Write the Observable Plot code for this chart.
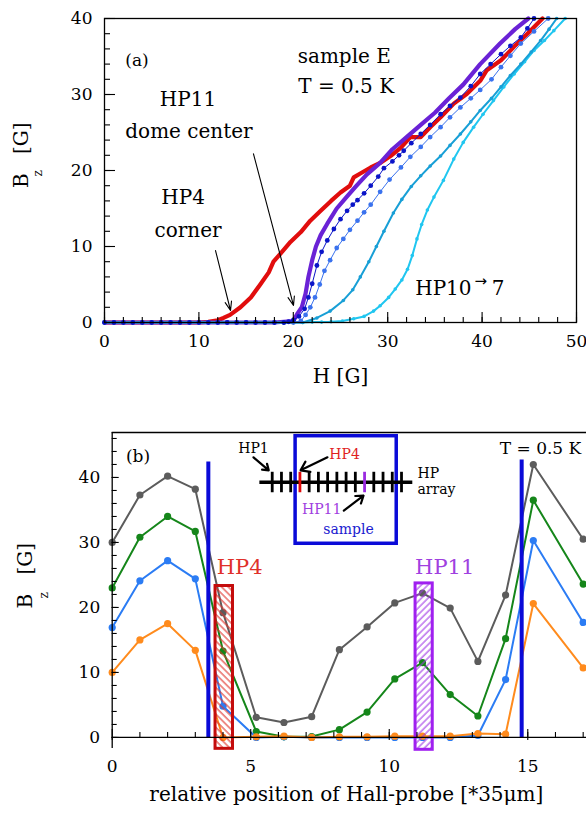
<!DOCTYPE html>
<html><head><meta charset="utf-8">
<script src="https://cdn.jsdelivr.net/npm/d3@7"></script>
<script src="https://cdn.jsdelivr.net/npm/@observablehq/plot@0.6"></script>
<style>
body{margin:0;background:#fff;}
#wrap{position:relative;width:586px;height:814px;overflow:hidden;background:#fff;}
#wrap svg.pl{position:absolute;left:0;}
</style></head><body>
<svg width="0" height="0" style="position:absolute">
<defs>
<pattern id="hatch4" patternUnits="userSpaceOnUse" width="4.7" height="4.7" patternTransform="rotate(-45)"><line x1="1" y1="0" x2="1" y2="4.7" stroke="#e0342c" stroke-width="1.1"/></pattern>
<pattern id="hatch11" patternUnits="userSpaceOnUse" width="4.7" height="4.7" patternTransform="rotate(45)"><line x1="1" y1="0" x2="1" y2="4.7" stroke="#a23ce6" stroke-width="1.1"/></pattern>
</defs></svg>
<div id="wrap"></div>
<script>
// ---------- Panel (a) data: H [G] vs Bz [G] ----------
const hTicksA = [0, 10, 20, 30, 40, 50];
const bTicksA = [0, 10, 20, 30, 40];
const hp4 = [[0,0],[5,0],[10,0],[11,0.1],[12,0.3],[12.6,0.6],[13.3,1.0],[14.4,2.0],[15.5,3.3],[16.5,5.0],[17.4,6.6],[17.9,8.0],[18.6,9.0],[19.7,10.6],[20.8,11.9],[21.8,13.4],[22.9,14.7],[24,16],[25,17.1],[26,18],[26.4,19.1],[27.1,19.6],[28.2,20.4],[29.2,21],[30.3,21.9],[31.4,23],[32.4,24.4],[33.5,24.4],[34.5,25.7],[35.6,27],[37,28.8],[38.4,30.1],[39.8,31.8],[40.5,33.2],[42,34.5],[43.4,36.3],[44.8,38],[46.4,40]];
const hp11 = [[0,0],[5,0],[10,0],[15,0],[18,0],[20,0.2],[20.4,1.1],[20.9,2],[21.3,3.8],[21.6,6],[22,8.2],[22.4,10],[22.9,11.5],[23.6,13],[24.6,15],[25.7,16.6],[26.7,18],[27.8,19.5],[29.2,21],[30.5,22.8],[32,24.4],[33.5,26],[35,27.6],[36.5,29.5],[38,31.3],[39.8,34],[41.9,36.7],[43.5,38.6],[44.9,40]];
const hp10 = [[0,0],[1,0],[2,0],[3,0],[4,0],[5,0],[6,0],[7,0],[8,0],[9,0],[10,0],[11,0],[12,0],[13,0],[14,0],[15,0],[16,0],[17,0],[18,0],[19,0],[19.5,0.1],[20,0.3],[20.6,0.8],[21.2,1.8],[21.6,3.3],[22,5.1],[22.5,7.5],[23,9.3],[23.6,10.8],[24.3,12.3],[25,13.6],[25.7,14.7],[26.3,15.5],[26.8,16.1],[27.5,17.0],[28.2,18.0],[29,19.2],[29.6,20.3],[30.5,21.2],[31.2,22.0],[31.7,22.6],[32.5,23.6],[33.5,24.8],[34.5,26.0],[35.6,27.4],[36.6,28.5],[37.7,29.6],[38.8,31.1],[39.8,32.7],[40.9,34.0],[42,35.3],[43,36.4],[44.1,37.5],[44.8,38.7],[45.5,40]];
const hp9 = [[0,0],[1,0],[2,0],[3,0],[4,0],[5,0],[6,0],[7,0],[8,0],[9,0],[10,0],[11,0],[12,0],[13,0],[14,0],[15,0],[16,0],[17,0],[18,0],[19,0],[20,0],[20.8,0.2],[21.3,1.0],[21.8,2.0],[22.3,3.3],[22.8,5.0],[23.3,6.8],[23.9,8.2],[24.6,9.8],[25.3,11.0],[26,12.2],[26.8,13.4],[27.5,14.5],[28.2,15.5],[29.2,17.2],[30.2,18.8],[31.4,20.4],[32.4,21.8],[33.5,23.1],[34.5,24.4],[35.6,25.7],[36.6,27.0],[37.7,28.3],[38.8,29.5],[39.8,30.6],[41,32.0],[42,33.6],[43,35.1],[44.1,36.7],[45.5,38.3],[47,40]];
const hp8 = [[0,0],[1,0],[2,0],[3,0],[4,0],[5,0],[6,0],[7,0],[8,0],[9,0],[10,0],[11,0],[12,0],[13,0],[14,0],[15,0],[16,0],[17,0],[18,0],[19,0],[20,0],[21,0],[22.5,0.6],[23.9,1.5],[25.3,2.9],[26.3,4.3],[27.1,6.0],[28,8.0],[28.8,10.0],[29.6,12.0],[30.6,14.4],[31.5,16.2],[32.5,17.9],[33.5,19.3],[34.5,20.6],[35.6,21.9],[36.6,23.3],[37.7,24.8],[38.8,26.4],[39.8,27.9],[41,29.5],[42,31],[43,32.5],[44.1,34],[45.2,35.6],[46.2,37.1],[47.1,38.6],[47.9,40]];
const hp7 = [[0,0],[1,0],[2,0],[3,0],[4,0],[5,0],[6,0],[7,0],[8,0],[9,0],[10,0],[11,0],[12,0],[13,0],[14,0],[15,0],[16,0],[17,0],[18,0],[19,0],[20,0],[21,0],[22,0.05],[23,0.05],[24,0.1],[25.2,0.2],[26.4,0.5],[27.5,0.8],[28.5,1.5],[29.2,2.2],[30.1,3.3],[30.8,4.4],[31.5,5.6],[32.1,7.0],[32.6,8.8],[33.1,11.0],[33.6,12.9],[34.2,14.8],[34.9,16.5],[35.9,18.7],[37,21.5],[38,23.7],[39.1,25.7],[40.1,27.4],[41.2,29.2],[42.3,31.0],[43.4,32.7],[44.5,34.3],[45.5,35.8],[46.6,37.1],[47.6,38.4],[48.8,40]];

// ---------- Panel (b) data: Bz vs Hall-probe position ----------
const xTicksB = [0, 5, 10, 15];
const yTicksB = [0, 10, 20, 30, 40];
const probePos = [0, 1, 2, 3, 4, 5.2, 6.2, 7.2, 8.2, 9.2, 10.2, 11.2, 12.2, 13.2, 14.2, 15.2, 17];
const grayB   = [30.0, 37.3, 40.2, 38.2, 19.2, 3.1, 2.3, 3.2, 13.5, 17.0, 20.7, 22.2, 19.9, 11.7, 21.9, 42.0, 30.5];
const greenB  = [23.0, 30.8, 34.0, 31.7, 13.3, 0.9, 0.1, 0.15, 1.2, 3.9, 9.0, 11.5, 6.6, 3.3, 15.2, 36.5, 23.6];
const blueB   = [16.9, 24.1, 27.2, 24.4, 4.8, 0.0, 0.1, 0.0, 0.0, 0.0, 0.0, 0.0, 0.0, 0.3, 8.9, 30.3, 17.7];
const orangeB = [10.0, 15.0, 17.5, 13.4, 0.0, 0.1, 0.2, 0.0, 0.1, 0.1, 0.2, 0.2, 0.2, 0.6, 0.5, 20.6, 10.7];
const sampleEdges = [3.47, 14.78];
const edgeTops = [42.4, 42.7];
const probeBoxes = [{name:"HP4", x1:3.73, x2:4.36, y1:-1.75, y2:23.3}, {name:"HP11", x1:10.95, x2:11.57, y1:-1.9, y2:23.7}];
const insetProbes = d3.range(1, 16); // HP1 .. HP15

const FONT = "DejaVu Serif, serif";
const wrap = document.getElementById("wrap");
const pts = (arr) => arr.map(([x, y]) => ({x, y}));

// ---------- Panel (a) ----------
const frameHA = 304, frameWA = 472;
const plotA = Plot.plot({
  width: 586, height: 400,
  marginTop: 18, marginBottom: 78, marginLeft: 104, marginRight: 10,
  x: {domain: [0, 50], ticks: hTicksA, tickSize: 0, tickPadding: 12, label: null},
  y: {domain: [0, 40], ticks: bTicksA, tickSize: 0, tickPadding: 12, label: null},
  style: {fontFamily: FONT, fontSize: "17px", color: "black", background: "transparent", overflow: "visible"},
  marks: [
    Plot.line(pts(hp4), {x: "x", y: "y", stroke: "#e10d0d", strokeWidth: 4.2}),
    Plot.line(pts(hp11), {x: "x", y: "y", stroke: "#6a22d6", strokeWidth: 4.2}),
    Plot.line(pts(hp7), {x: "x", y: "y", stroke: "#20c6f0", strokeWidth: 2}),
    Plot.dot(pts(hp7), {x: "x", y: "y", r: 1.8, fill: "#20c6f0"}),
    Plot.line(pts(hp8), {x: "x", y: "y", stroke: "#189fd6", strokeWidth: 2}),
    Plot.dot(pts(hp8), {x: "x", y: "y", r: 1.8, fill: "#189fd6"}),
    Plot.line(pts(hp9), {x: "x", y: "y", stroke: "#3a72ee", strokeWidth: 1}),
    Plot.dot(pts(hp9), {x: "x", y: "y", r: 2.4, fill: "#3a72ee"}),
    Plot.line(pts(hp10), {x: "x", y: "y", stroke: "#0a14c8", strokeWidth: 1}),
    Plot.dot(pts(hp10), {x: "x", y: "y", r: 2.4, fill: "#0a14c8"}),
    Plot.frame({stroke: "black", strokeWidth: 1.3}),
    Plot.tickX(d3.range(0, 50.01, 2), {x: d => d, insetTop: frameHA - 5, strokeWidth: 1.1}),
    Plot.tickX(hTicksA, {x: d => d, insetTop: frameHA - 10, strokeWidth: 1.1}),
    Plot.tickY(d3.range(0, 40.01, 2), {y: d => d, insetRight: frameWA - 6, strokeWidth: 1.1}),
    Plot.tickY(bTicksA, {y: d => d, insetRight: frameWA - 11, strokeWidth: 1.1}),
    Plot.arrow([{x1: 11.76, y1: 9.47, x2: 13.35, y2: 1.58}, {x1: 15.78, y1: 22.2, x2: 20.02, y2: 2.24}],
      {x1: "x1", y1: "y1", x2: "x2", y2: "y2", stroke: "black", strokeWidth: 1.1, headLength: 13, headAngle: 40}),
    Plot.text([{t: "(a)", x: 3.44, y: 34.5}], {x: "x", y: "y", text: "t", fontSize: 17}),
    Plot.text([{t: "sample E", x: 25.4, y: 35}, {t: "T = 0.5 K", x: 25.6, y: 31.05},
               {t: "HP11", x: 8.85, y: 29.3}, {t: "dome center", x: 8.95, y: 25.07},
               {t: "HP4", x: 8.32, y: 16.5}, {t: "corner", x: 8.85, y: 12.1},
               {t: "HP10", x: 35.9, y: 4.47}, {t: "7", x: 41.7, y: 4.47}],
      {x: "x", y: "y", text: "t", fontSize: 20}),
    Plot.text([{t: "→", x: 39.85, y: 5.5}], {x: "x", y: "y", text: "t", fontSize: 15, fontFamily: "DejaVu Sans, sans-serif"}),
    Plot.text(["H [G]"], {frameAnchor: "bottom", text: d => d, dy: 60, fontSize: 20}),
    Plot.text(["B"], {frameAnchor: "left", text: d => d, rotate: -90, dx: -83, dy: 17.5, fontSize: 20}),
    Plot.text(["z"], {frameAnchor: "left", text: d => d, rotate: -90, dx: -66, dy: 6, fontSize: 12}),
    Plot.text(["[G]"], {frameAnchor: "left", text: d => d, rotate: -90, dx: -83, dy: -16.5, fontSize: 20})
  ]
});
plotA.setAttribute("class", (plotA.getAttribute("class") || "") + " pl");
plotA.style.top = "0px";
wrap.appendChild(plotA);

// ---------- Panel (b) ----------
const frameHB = 316, frameWB = 474.3;
const rowsB = (vals) => probePos.map((x, i) => ({x, y: vals[i]}));
const seriesB = [[grayB, "#5c5c5c"], [greenB, "#15861a"], [blueB, "#2b7cf4"], [orangeB, "#ff8b1d"]];
const lineMarks = seriesB.flatMap(([vals, c]) => [
  Plot.line(rowsB(vals), {x: "x", y: "y", stroke: c, strokeWidth: 2}),
  Plot.dot(rowsB(vals), {x: "x", y: "y", r: 3.6, fill: c})
]);
const insetX0 = 5.776, insetStep = 1 / 3;
const insetTicks = insetProbes.map(i => ({x: insetX0 + (i - 1) * insetStep, i}));
const plotB = Plot.plot({
  width: 586, height: 414,
  marginTop: 32, marginBottom: 66, marginLeft: 111.7, marginRight: 0,
  x: {domain: [0, 17.12], ticks: xTicksB, tickSize: 0, tickPadding: 11, label: null},
  y: {domain: [-1.7, 46.92], ticks: yTicksB, tickSize: 0, tickPadding: 12, label: null},
  style: {fontFamily: FONT, fontSize: "17px", color: "black", background: "transparent", overflow: "visible"},
  marks: [
    ...lineMarks,
    Plot.rect(probeBoxes.slice(0, 1), {x1: "x1", x2: "x2", y1: "y1", y2: "y2", fill: "url(#hatch4)", stroke: "#c40c0c", strokeWidth: 3}),
    Plot.rect(probeBoxes.slice(1), {x1: "x1", x2: "x2", y1: "y1", y2: "y2", fill: "url(#hatch11)", stroke: "#a020f0", strokeWidth: 3}),
    Plot.ruleX(sampleEdges.map((x, i) => ({x, top: edgeTops[i]})), {x: "x", y1: 0, y2: "top", stroke: "#0a0ad8", strokeWidth: 4}),
    Plot.ruleY([0], {stroke: "black", strokeWidth: 1.3}),
    Plot.ruleY([46.92], {stroke: "black", strokeWidth: 1.3}),
    Plot.ruleX([0], {stroke: "black", strokeWidth: 1.3}),
    Plot.tickX(d3.range(1, 17.01, 1), {x: d => d, insetTop: frameHB - 11 - 5, insetBottom: 11, strokeWidth: 1.1}),
    Plot.tickX(xTicksB, {x: d => d, insetTop: frameHB - 11 - 8, insetBottom: 8, strokeWidth: 1.1}),
    Plot.tickY(d3.range(0, 46.01, 2), {y: d => d, insetRight: frameWB - 5, strokeWidth: 1.1}),
    Plot.tickY(yTicksB, {y: d => d, insetRight: frameWB - 7, strokeWidth: 1.1}),
    // inset schematic of the Hall-probe array
    Plot.rect([{x1: 6.62, x2: 10.27, y1: 29.8, y2: 46.35}], {x1: "x1", x2: "x2", y1: "y1", y2: "y2", fill: "none", stroke: "#0a0ad8", strokeWidth: 3.5}),
    Plot.ruleY([{y: 39.28, x1: 5.33, x2: 10.85}], {y: "y", x1: "x1", x2: "x2", stroke: "black", strokeWidth: 3.5}),
    Plot.ruleX(insetTicks, {x: "x", y1: 37.65, y2: 40.8, strokeWidth: 2.8,
      stroke: d => d.i === 4 ? "#e00a0a" : d.i === 11 ? "#9a2ae0" : "black"}),
    Plot.arrow([{x1: 5.1, y1: 43.1, x2: 5.65, y2: 41.1}, {x1: 7.77, y1: 43.1, x2: 6.8, y2: 41.1}, {x1: 8.36, y1: 34.9, x2: 9.07, y2: 37.2}],
      {x1: "x1", y1: "y1", x2: "x2", y2: "y2", stroke: "black", strokeWidth: 2.2, headLength: 8, headAngle: 70}),
    Plot.text([{t: "HP1", x: 5.1, y: 44.5}], {x: "x", y: "y", text: "t", fontSize: 14}),
    Plot.text([{t: "HP", x: 11.02, y: 40.6}, {t: "array", x: 11.02, y: 38.15}],
      {x: "x", y: "y", text: "t", fontSize: 14, textAnchor: "start"}),
    Plot.text([{t: "HP4", x: 8.39, y: 43.5}], {x: "x", y: "y", text: "t", fontSize: 14, fill: "#e01f1f"}),
    Plot.text([{t: "HP11", x: 7.56, y: 35.1}], {x: "x", y: "y", text: "t", fontSize: 14, fill: "#a040e0"}),
    Plot.text([{t: "sample", x: 8.53, y: 32.0}], {x: "x", y: "y", text: "t", fontSize: 14, fill: "#1a1ad0"}),
    Plot.text([{t: "HP4", x: 4.6, y: 26.2}], {x: "x", y: "y", text: "t", fontSize: 21, fill: "#e0302a"}),
    Plot.text([{t: "HP11", x: 12.0, y: 26.2}], {x: "x", y: "y", text: "t", fontSize: 21, fill: "#a040e0"}),
    Plot.text([{t: "(b)", x: 0.93, y: 43.15}, {t: "T = 0.5 K", x: 15.46, y: 44.5}], {x: "x", y: "y", text: "t", fontSize: 17}),
    Plot.text(["relative position of Hall-probe [*35μm]"], {frameAnchor: "bottom", text: d => d, dy: 52, dx: -3, fontSize: 20}),
    Plot.text(["B"], {frameAnchor: "left", text: d => d, rotate: -90, dx: -86.7, dy: 18, fontSize: 20}),
    Plot.text(["z"], {frameAnchor: "left", text: d => d, rotate: -90, dx: -67.7, dy: 8, fontSize: 12}),
    Plot.text(["[G]"], {frameAnchor: "left", text: d => d, rotate: -90, dx: -86.7, dy: -16, fontSize: 20})
  ]
});
plotB.setAttribute("class", (plotB.getAttribute("class") || "") + " pl");
plotB.style.top = "400px";
wrap.appendChild(plotB);
</script></body></html>
